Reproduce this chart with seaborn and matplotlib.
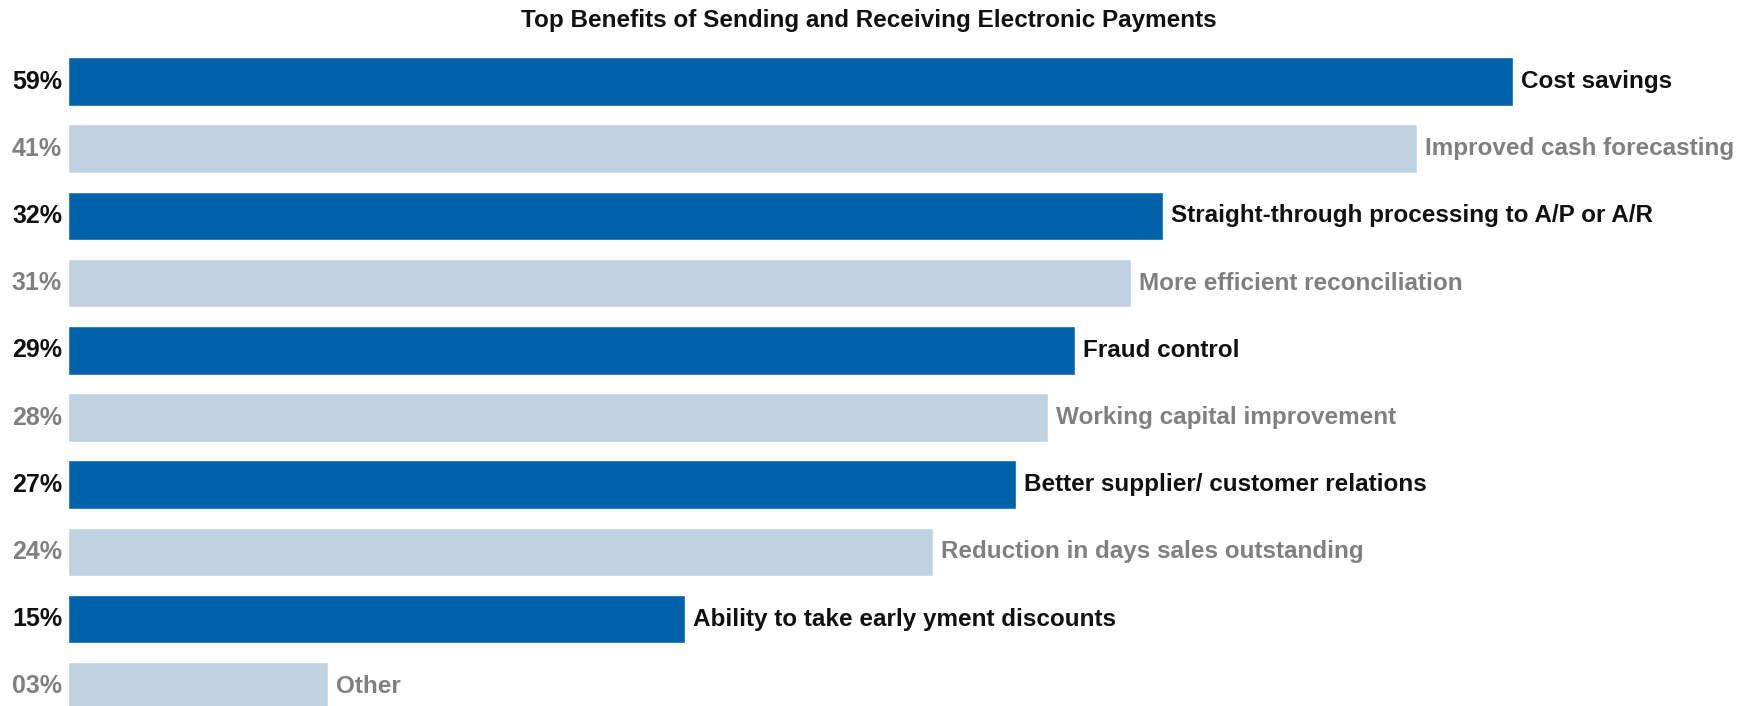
import matplotlib
matplotlib.use("Agg")
import matplotlib.pyplot as plt
import seaborn as sns
from matplotlib import font_manager

categories = [
    "Cost savings",
    "Improved cash forecasting",
    "Straight-through processing to A/P or A/R",
    "More efficient reconciliation",
    "Fraud control",
    "Working capital improvement",
    "Better supplier/ customer relations",
    "Reduction in days sales outstanding",
    "Ability to take early yment discounts",
    "Other",
]
pct_labels = ["59%", "41%", "32%", "31%", "29%", "28%", "27%", "24%", "15%", "03%"]
# bar lengths as drawn in the picture (scaled so that the first bar = 59)
bar_lengths = [59.0, 55.1, 44.7, 43.4, 41.1, 40.0, 38.7, 35.3, 25.2, 10.6]
title = "Top Benefits of Sending and Receiving Electronic Payments"

DARK = "#0062AA"
LIGHT = "#C0D2E1"
TXT_DARK = "#111111"
TXT_LIGHT = "#808080"

sns.set_theme(style="white")
names = {f.name for f in font_manager.fontManager.ttflist}
fam = [f for f in ["Liberation Sans Narrow", "Liberation Sans", "DejaVu Sans"] if f in names]
plt.rcParams["font.family"] = fam

fig = plt.figure(figsize=(17.5, 7.06), dpi=100)
ax = fig.add_axes([68 / 1750, 0, (1750 - 68) / 1750, 1])

colors = [DARK if i % 2 == 0 else LIGHT for i in range(len(categories))]
sns.barplot(x=bar_lengths, y=categories, hue=categories, palette=colors,
            width=0.722, legend=False, ax=ax, orient="h", saturation=1)

ax.set_xlim(0, 1682 * 59.0 / 1445)
ax.set_ylim(9.293, -1.213)
for s in ax.spines.values():
    s.set_visible(False)
ax.set_xticks([])
ax.set_yticks([])
ax.set_xlabel("")
ax.set_ylabel("")

for i, (cat, pct, L) in enumerate(zip(categories, pct_labels, bar_lengths)):
    tc = TXT_DARK if i % 2 == 0 else TXT_LIGHT
    ax.annotate(pct, xy=(0, i), xytext=(-6, 0), textcoords="offset pixels",
                ha="right", va="center", fontsize=18, fontweight="bold",
                color=tc, annotation_clip=False)
    ax.annotate(cat, xy=(L, i), xytext=(8, 0), textcoords="offset pixels",
                ha="left", va="center", fontsize=17.5, fontweight="bold",
                color=tc, annotation_clip=False)

fig.text(869 / 1750, 1 - 21 / 706, title, ha="center", va="center",
         fontsize=17.5, fontweight="bold", color="#111111")

fig.savefig("out.png", dpi=100)
